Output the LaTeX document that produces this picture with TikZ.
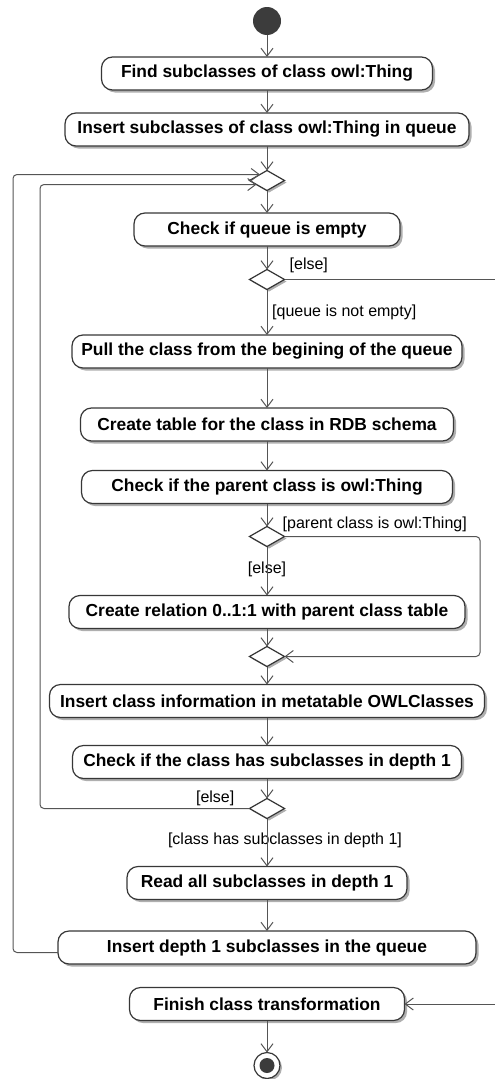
\documentclass[tikz,border=0pt]{standalone}
\usepackage{fontspec}
\setmainfont{Liberation Sans}
\usetikzlibrary{positioning, arrows.meta, shapes.geometric, shadows, calc}
\definecolor{lineink}{RGB}{85,85,85}
\definecolor{boxedge}{RGB}{55,55,55}
\definecolor{shadegray}{RGB}{175,175,175}
\definecolor{dotfill}{RGB}{60,60,60}
\tikzset{
  actbox/.style = {rectangle, draw=boxedge, fill=white, rounded corners=11pt,
                   line width=1.2pt, minimum height=33pt, inner sep=0pt, outer sep=0pt,
                   font=\fontsize{17.4}{20}\selectfont\bfseries,
                   drop shadow={shadow xshift=2.5pt, shadow yshift=-2.5pt,
                                fill=shadegray, opacity=1}},
  branch/.style = {diamond, draw=boxedge, fill=white, line width=1.2pt,
                   minimum width=35pt, minimum height=20pt, inner sep=0pt, outer sep=0pt,
                   drop shadow={shadow xshift=2pt, shadow yshift=-2pt,
                                fill=shadegray, opacity=1}},
  initnode/.style = {circle, fill=dotfill, minimum size=28pt, inner sep=0pt, outer sep=0pt},
  finalnode/.style = {circle, draw=boxedge, fill=white, line width=1.2pt,
                      minimum size=26pt, inner sep=0pt, outer sep=0pt,
                      path picture={\fill[dotfill] (path picture bounding box.center) circle (7.5pt);},
                      drop shadow={shadow xshift=2pt, shadow yshift=-2pt,
                                   fill=shadegray, opacity=1}},
  guard/.style = {font=\fontsize{16}{19}\selectfont, inner sep=0pt},
  flow/.style = {draw=lineink, line width=1pt, -{Straight Barb[length=8pt, width=12pt]}}
}
\begin{document}
\begin{tikzpicture}[x=1pt, y=1pt]
\useasboundingbox (0,0) rectangle (495,-1079);

\node[initnode] (start) at (267,-21) {};
\node[actbox, minimum width=331pt, below=22pt of start] (find) {Find subclasses of class owl:Thing};
\node[actbox, minimum width=404pt, below=23pt of find] (fill) {Insert subclasses of class owl:Thing in queue};
\node[branch, below=24.5pt of fill] (m1) {};
\node[actbox, minimum width=266pt, below=22.5pt of m1] (empty) {Check if queue is empty};
\node[branch, below=23.5pt of empty] (d2) {};
\node[actbox, minimum width=390pt, below=45.5pt of d2] (pull) {Pull the class from the begining of the queue};
\node[actbox, minimum width=373pt, below=40pt of pull] (table) {Create table for the class in RDB schema};
\node[actbox, minimum width=371pt, below=29.5pt of table] (parent) {Check if the parent class is owl:Thing};
\node[branch, below=23pt of parent] (d3) {};
\node[actbox, minimum width=396pt, below=49pt of d3] (rel) {Create relation 0..1:1 with parent class table};
\node[branch, below=18pt of rel] (m2) {};
\node[actbox, minimum width=435pt, below=18pt of m2] (meta) {Insert class information in metatable OWLClasses};
\node[actbox, minimum width=389pt, below=28pt of meta] (subs) {Check if the class has subclasses in depth 1};
\node[branch, below=20pt of subs] (d5) {};
\node[actbox, minimum width=280pt, below=48pt of d5] (read) {Read all subclasses in depth 1};
\node[actbox, minimum width=418pt, below=31.5pt of read] (push) {Insert depth 1 subclasses in the queue};
\node[actbox, minimum width=275pt, below=23.5pt of push] (finish) {Finish class transformation};
\node[finalnode, below=32pt of finish] (stop) {};

% guards
\node[guard, anchor=west] (gEmptyElse) at ($(d2.east)+(5,14)$) {[else]};
\node[guard, anchor=west] (gNotEmpty) at ($(d2.south)+(5,-23)$) {[queue is not empty]};
\node[guard, anchor=west] (gIsThing) at ($(d3.east)+(-2,12)$) {[parent class is owl:Thing]};
\node[guard] (gParElse) at ($(d3.south)+(0,-23)$) {[else]};
\node[guard, anchor=east] (gSubElse) at ($(d5.west)+(-15,10)$) {[else]};
\node[guard] (gHasSub) at ($(d5.south)+(18,-22)$) {[class has subclasses in depth 1]};

\coordinate (m1up) at ($(m1.west)!0.6!(m1.north)$);
\coordinate (m1lo) at ($(m1.west)!0.4!(m1.south)$);
\coordinate (outerx) at (13,0);
\coordinate (innerx) at (40,0);
\coordinate (parx) at (480,0);
\coordinate (edgex) at (500,0);

\draw[flow] (start) -- (find);
\draw[flow] (find) -- (fill);
\draw[flow] (fill) -- (m1);
\draw[flow] (m1) -- (empty);
\draw[flow] (empty) -- (d2);
\draw[flow] (d2) -- (pull);
\draw[flow] (pull) -- (table);
\draw[flow] (table) -- (parent);
\draw[flow] (parent) -- (d3);
\draw[flow] (d3) -- (rel);
\draw[flow] (rel) -- (m2);
\draw[flow] (m2) -- (meta);
\draw[flow] (meta) -- (subs);
\draw[flow] (subs) -- (d5);
\draw[flow] (d5) -- (read);
\draw[flow] (read) -- (push);
\draw[flow] (finish) -- (stop);

% loops back to the queue check
\draw[flow, rounded corners=4pt] ([yshift=-5pt]push.west) -| (outerx |- m1up) -- (m1up);
\draw[flow, rounded corners=4pt] (d5.west) -| (innerx |- m1lo) -- (m1lo);
\draw[flow, rounded corners=4pt] (d3.east) -- (parx |- d3.east) |- (m2.east);
\draw[flow] (d2.east) -- (edgex |- d2.east) |- (finish.east);
\end{tikzpicture}
\end{document}
